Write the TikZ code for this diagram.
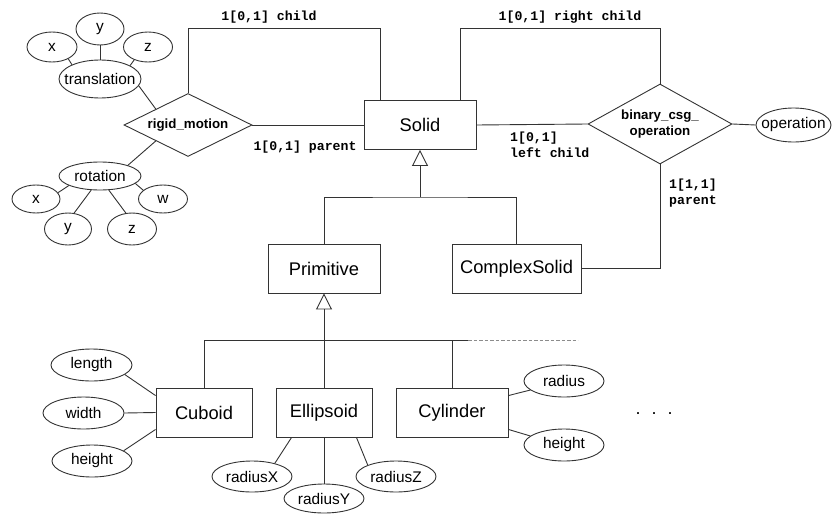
\documentclass[tikz,border=0pt]{standalone}
\usepackage{fontspec}
\setmainfont{Liberation Sans}
\newfontfamily\labelfont{Liberation Mono}
\usetikzlibrary{shapes.geometric,arrows.meta}

% keep the text out of the ellipse size computation
\newcommand{\attrtext}[1]{\makebox[0pt][c]{#1}}

\begin{document}
\begin{tikzpicture}[x=1pt,y=-1pt,
  ln/.style={draw=black!80, line width=0.9pt},
  entity/.style={ln, rectangle, inner sep=0pt, minimum height=49pt,
    font=\fontsize{18.3}{22}\selectfont},
  attr/.style={ln, ellipse, inner sep=0pt, font=\fontsize{15.4}{18}\selectfont},
  rel/.style={ln, diamond, inner sep=0pt, align=center,
    font=\bfseries\fontsize{13.3}{15.6}\selectfont},
  card/.style={inner sep=0pt, align=left,
    font=\labelfont\bfseries\fontsize{13.2}{16}\selectfont},
  isa/.style={ln, -{Triangle[open,length=16pt,width=16pt]}},
]
\useasboundingbox (0,0) rectangle (832,514);

% ---------- rigid motion and its attributes ----------
\node[rel, aspect=2.03, minimum width=128pt, minimum height=63pt] (rigid) at (188,125) {rigid\_motion};

\node[attr, minimum width=82pt, minimum height=38pt] (trans) at (100,79) {\attrtext{translation}};
\node[attr, minimum width=50pt, minimum height=30pt] (tx) at (52,47) {x};
\node[attr, minimum width=48pt, minimum height=32pt] (ty) at (100,29) {y};
\node[attr, minimum width=49pt, minimum height=30pt] (tz) at (148,47) {z};

\node[attr, minimum width=82pt, minimum height=28pt] (rot) at (100,176) {\attrtext{rotation}};
\node[attr, minimum width=48pt, minimum height=28pt] (rx) at (36,199) {x};
\node[attr, minimum width=47pt, minimum height=32pt] (ry) at (68,229) {y};
\node[attr, minimum width=49pt, minimum height=32pt] (rz) at (132,229) {z};
\node[attr, minimum width=49pt, minimum height=28pt] (rw) at (163,199) {w};

\draw[ln] (tx.-36) -- (trans.153);
\draw[ln] (ty.south) -- (trans.north);
\draw[ln] (tz.-137) -- (trans.24);
\draw[ln] (trans.-10) -- (rigid.north west);
\draw[ln] (rot.21) -- (rigid.south west);
\draw[ln] (rot.197) -- (rx.16);
\draw[ln] (rot.238) -- (ry.69);
\draw[ln] (rot.-58) -- (rz.111);
\draw[ln] (rot.-12) -- (rw.156);

% ---------- Solid and the CSG operation ----------
\node[entity, minimum width=112pt] (solid) at (420,125) {Solid};
\node[rel, aspect=1.8, minimum width=144pt, minimum height=80pt] (bin) at (660,124) {binary\_csg\_\\operation};
\node[attr, minimum width=75pt, minimum height=34pt] (op) at (793.5,125) {\attrtext{operation}};

\coordinate (lc) at (380,28);
\coordinate (rc) at (460,28);
\draw[ln] (rigid.north) |- (lc) -- (lc |- solid.north);
\draw[ln] (rc |- solid.north) -- (rc) -| (bin.north);
\draw[ln] (rigid.east) -- (solid.west);
\draw[ln] (solid.east) -- (bin.west);
\draw[ln] (bin.east) -- (op.west);

\node[card, anchor=center] (lchild) at (269,17) {1[0,1] child};
\node[card, anchor=center] (lrchild) at (570,17) {1[0,1] right child};
\node[card, anchor=center] (lparent) at (305,147) {1[0,1] parent};
\node[card, anchor=west] (llchild) at (510,145) {1[0,1]\\left child};
\node[card, anchor=west] (lcparent) at (669,193.5) {1[1,1]\\parent};

% ---------- generalisation of Solid ----------
\node[entity, minimum width=112pt] (prim) at (324,268.5) {Primitive};
\node[entity, minimum width=129pt] (complex) at (516.5,268.5) {ComplexSolid};

\coordinate (j1) at (420,197);
\draw[isa] (j1) -- (solid.south);
\draw[ln] (prim.north) |- (j1) -| (complex.north);
\draw[ln] (bin.south) |- (complex.east);

% ---------- primitives ----------
\node[entity, minimum width=96pt] (cuboid) at (204,412.5) {Cuboid};
\node[entity, minimum width=96pt] (ellipsoid) at (324,412.5) {Ellipsoid};
\node[entity, minimum width=112pt] (cylinder) at (452,412.5) {Cylinder};

\coordinate (j2) at (324,340);
\coordinate (ds) at (468,340);
\coordinate (de) at (578,340);
\draw[isa] (ellipsoid.north) -- (prim.south);
\draw[ln] (cuboid.north) |- (ds);
\draw[ln] (cylinder.north) -- (cylinder.north |- j2);
\draw[draw=black!45, line width=0.9pt, dash pattern=on 3.5pt off 2pt] (ds) -- (de);

% cuboid attributes
\node[attr, minimum width=81pt, minimum height=32pt] (length) at (91.5,365) {length};
\node[attr, minimum width=81pt, minimum height=32pt] (width) at (83.5,413) {width};
\node[attr, minimum width=80pt, minimum height=32pt] (cheight) at (92,461) {height};
\draw[ln] (length.-16) -- ([yshift=-8pt]cuboid.north west);
\draw[ln] (width.east) -- (cuboid.west);
\draw[ln] (cheight.18) -- ([yshift=8pt]cuboid.south west);

% ellipsoid attributes
\node[attr, minimum width=80pt, minimum height=31pt] (radx) at (252,476.5) {radiusX};
\node[attr, minimum width=80pt, minimum height=29pt] (rady) at (324,498.5) {radiusY};
\node[attr, minimum width=80pt, minimum height=31pt] (radz) at (396,476.5) {radiusZ};
\draw[ln] ([xshift=16pt]ellipsoid.south west) -- (radx.30);
\draw[ln] (ellipsoid.south) -- (rady.north);
\draw[ln] ([xshift=-16pt]ellipsoid.south east) -- (radz.158);

% cylinder attributes
\node[attr, minimum width=80pt, minimum height=32pt] (radius) at (564,381) {radius};
\node[attr, minimum width=80pt, minimum height=32pt] (yheight) at (564,445) {height};
\draw[ln] ([yshift=-8pt]cylinder.north east) -- (radius.195);
\draw[ln] ([yshift=8pt]cylinder.south east) -- (yheight.165);

% further primitives
\node[anchor=base, inner sep=0pt, font=\fontsize{18}{22}\selectfont] (more) at (654,414) {.\hspace{11pt}.\hspace{11pt}.};
\end{tikzpicture}
\end{document}
